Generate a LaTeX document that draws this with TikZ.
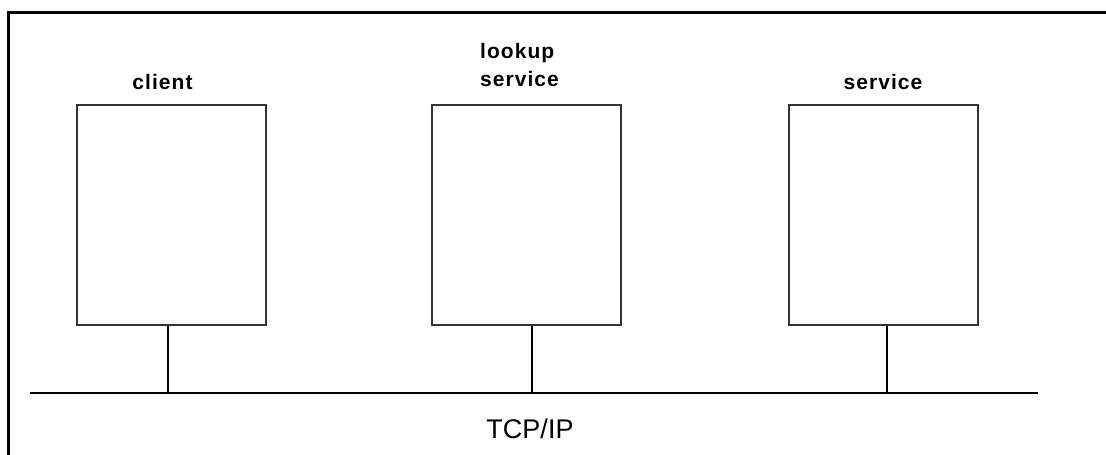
\documentclass[tikz,border=0pt]{standalone}
\usepackage{fontspec}
\setmainfont{Liberation Sans}
\usetikzlibrary{positioning}
\usetikzlibrary{calc}
\tikzset{box/.style={draw=black!80,line width=1.3pt,minimum width=189pt,minimum height=220pt,inner sep=0pt}}
\tikzset{lbl/.style={inner sep=0pt,font=\fontsize{21}{28}\selectfont\bfseries\addfontfeature{LetterSpace=5}}}
\tikzset{wire/.style={line width=2.8pt}}

\begin{document}
\begin{tikzpicture}[x=1pt,y=-1pt]
\useasboundingbox (0,0) rectangle (1106,455);
\draw[line width=3pt] (1106,12) -| (8,455);

\node[box] (client) at (171.5,215) {};
\node[box] (lookup) at (526.5,215) {};
\node[box] (service) at (883.5,215) {};

\node[lbl,anchor=base] (clientlbl) at (162.5,89) {client};
\node[lbl,anchor=north west,align=left] (lookuplbl) at (480,43) {lookup\\service};
\node[lbl,anchor=base] (servicelbl) at (883,89) {service};

\coordinate (busL) at (30,393);
\coordinate (busR) at (1038,393);
\coordinate (cbus) at (168,393);
\coordinate (lbus) at (532,393);
\coordinate (sbus) at (887,393);

\draw[wire] (busL) -- (busR);
\draw[wire] (client.south -| cbus) -- (cbus);
\draw[wire] (lookup.south -| lbus) -- (lbus);
\draw[wire] (service.south -| sbus) -- (sbus);

\node[inner sep=0pt,anchor=base,font=\fontsize{27}{32}\selectfont] (tcp) at (530,438) {TCP/IP};
\end{tikzpicture}
\end{document}
